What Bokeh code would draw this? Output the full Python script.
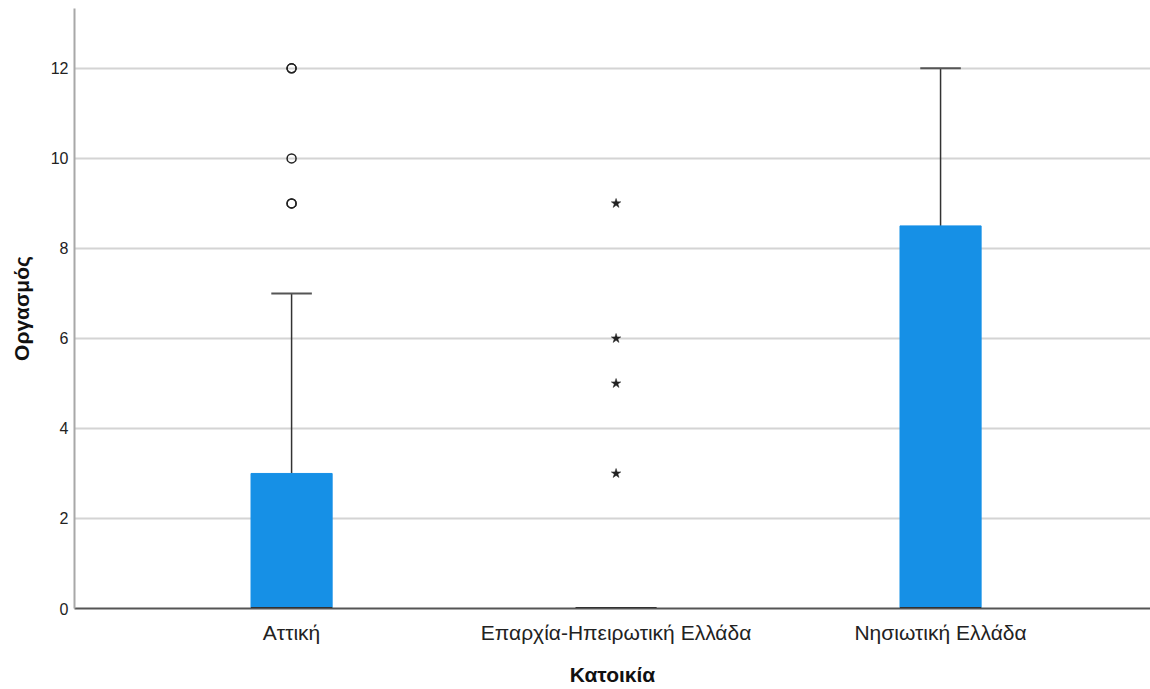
from bokeh.plotting import figure
from bokeh.models import FixedTicker, Range1d
from bokeh.embed import file_html
from bokeh.resources import INLINE

# Boxplot summary per residence group
categories = ["Αττική", "Επαρχία-Ηπειρωτική Ελλάδα", "Νησιωτική Ελλάδα"]
positions = [1, 2, 3]
q1 = [0, 0, 0]
median = [0, 0, 0]
q3 = [3, 0, 8.5]
lower_whisker = [0, 0, 0]
upper_whisker = [7, 0, 12]

# Outliers (circles) and extreme values (stars)
outlier_x = [1, 1, 1, 1, 1]
outlier_y = [9, 9, 10, 12, 12]
extreme_x = [2, 2, 2, 2]
extreme_y = [3, 5, 6, 9]

y_ticks = [0, 2, 4, 6, 8, 10, 12]

BOX_W = 0.25
CAP_W = 0.125
BOX_COLOR = "#1690e6"
FONT = "Liberation Sans"

p = figure(width=1150, height=689, output_backend="svg", toolbar_location=None,
           x_range=Range1d(0.331, 3.647), y_range=Range1d(0, 13.33),
           min_border_left=74, min_border_right=0, min_border_top=8,
           min_border_bottom=81)
p.outline_line_color = None
p.background_fill_color = "white"
p.border_fill_color = "white"

# Grid
p.xgrid.grid_line_color = None
p.ygrid.grid_line_color = "#d4d4d4"
p.ygrid.grid_line_width = 2
p.ygrid.ticker = FixedTicker(ticks=y_ticks)

# Axes
p.yaxis.ticker = FixedTicker(ticks=y_ticks)
p.xaxis.ticker = FixedTicker(ticks=positions)
p.xaxis.major_label_overrides = {pos: c for pos, c in zip(positions, categories)}
for ax in (p.xaxis[0], p.yaxis[0]):
    ax.major_tick_line_color = None
    ax.minor_tick_line_color = None
    ax.major_label_text_font = FONT
    ax.major_label_text_color = "#222222"
    ax.axis_label_text_font = FONT
    ax.axis_label_text_font_style = "bold"
    ax.axis_label_text_font_size = "21px"
    ax.axis_label_text_color = "#111111"
p.yaxis.major_label_text_font_size = "16px"
p.xaxis.major_label_text_font_size = "21px"
p.yaxis.axis_line_color = "#a8a8a8"
p.yaxis.axis_line_width = 2
p.xaxis.axis_line_color = "#555555"
p.xaxis.axis_line_width = 2
p.yaxis.axis_label = "Οργασμός"
p.xaxis.axis_label = "Κατοικία"
p.xaxis.major_label_standoff = 6
p.yaxis.major_label_standoff = 0
p.xaxis.axis_label_standoff = 16
p.yaxis.axis_label_standoff = 15

# Whiskers
p.segment(x0=positions, y0=q3, x1=positions, y1=upper_whisker,
          line_color="#333333", line_width=1.5)
p.segment(x0=[x - CAP_W / 2 for x in positions], y0=upper_whisker,
          x1=[x + CAP_W / 2 for x in positions], y1=upper_whisker,
          line_color="#555555", line_width=2)

# Boxes
p.vbar(x=positions, width=BOX_W, bottom=q1, top=q3,
       fill_color=BOX_COLOR, line_color=BOX_COLOR, line_width=1)

# Medians
p.segment(x0=[x - BOX_W / 2 for x in positions], y0=median,
          x1=[x + BOX_W / 2 for x in positions], y1=median,
          line_color="#111111", line_width=3)

# Outliers and extremes
p.scatter(x=outlier_x, y=outlier_y, marker="circle", size=9,
          fill_color=None, line_color="#222222", line_width=1.5)
p.scatter(x=extreme_x, y=extreme_y, marker="star", size=10,
          fill_color="#222222", line_color="#222222", line_width=0.5)

open("out.html", "w").write(file_html(p, INLINE))
